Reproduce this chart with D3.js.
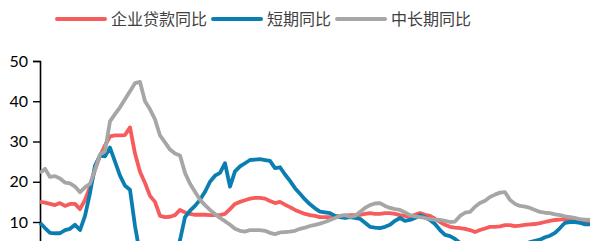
<!DOCTYPE html>
<html>
<head>
<meta charset="utf-8">
<script src="https://cdn.jsdelivr.net/npm/d3@7"></script>
<style>
  html, body { margin: 0; padding: 0; background: #fff; overflow: hidden; }
  #chart { width: 592px; height: 241px; overflow: hidden; }
</style>
</head>
<body>
<div id="chart"></div>
<script>
// series names (legend)
const seriesNames = ['企业贷款同比', '短期同比', '中长期同比'];
const seriesColors = ['#F75C5D', '#0A7DB1', '#A6A6A6'];

// y axis ticks (the ones that fall inside the picture)
const yTicks = [10, 20, 30, 40, 50];

// 企业贷款同比
const loanYoY = [
  15.0, 14.8, 14.5, 14.2, 14.7, 14.0, 14.5, 14.5, 13.2, 15.5,
  18.7, 23.0, 26.5, 29.0, 31.3, 31.5, 31.5, 31.6, 33.5, 27.0,
  22.5, 19.7, 16.5, 15.0, 11.5, 11.2, 11.3, 11.7, 13.0, 12.4,
  12.0, 11.8, 11.8, 11.8, 11.7, 11.7, 11.7, 12.0, 13.2, 14.5,
  15.0, 15.4, 15.8, 16.0, 16.0, 15.8, 15.2, 14.7, 15.0, 14.3,
  13.7, 13.0, 12.5, 12.0, 11.7, 11.5, 11.2, 11.2, 11.2, 11.3,
  11.5, 11.6, 11.7, 11.7, 11.8, 12.0, 12.2, 12.0, 12.0, 12.2,
  12.2, 12.0, 11.7, 11.5, 11.2, 11.8, 12.2, 11.8, 11.5, 10.8,
  10.0, 9.3, 8.8, 8.6, 8.5, 8.3, 8.0, 7.5, 8.0, 8.4,
  8.8, 8.8, 8.9, 9.2, 9.2, 9.0, 9.1, 9.3, 9.4, 9.5,
  9.7, 10.0, 10.3, 10.5, 10.6, 10.7, 10.6, 10.5, 10.4, 10.2,
  10.2
];

// 短期同比
const shortYoY = [
  9.8, 8.5, 7.3, 7.2, 7.2, 8.0, 8.3, 9.3, 8.0, 11.5,
  17.2, 24.0, 26.5, 26.3, 28.5, 25.0, 21.5, 19.0, 18.0, 9.0,
  2.0, -2.0, -4.0, -5.0, -5.0, -4.0, -2.0, 1.0, 5.5, 11.2,
  12.8, 14.0, 15.5, 17.5, 20.0, 21.5, 22.2, 24.6, 18.8, 22.6,
  23.8, 24.6, 25.4, 25.5, 25.6, 25.4, 25.2, 23.4, 23.6, 21.8,
  20.2, 18.4, 17.0, 15.6, 14.4, 13.4, 12.6, 12.4, 12.2, 11.5,
  11.2, 11.0, 11.2, 11.0, 10.8, 9.8, 8.8, 8.6, 8.5, 8.8,
  9.3, 10.3, 11.0, 10.3, 10.5, 11.0, 11.7, 11.2, 10.5, 9.5,
  8.0, 6.8, 6.5, 5.8, 4.8, 3.5, 2.5, 2.0, 1.5, 1.5,
  1.5, 2.0, 2.0, 2.5, 3.0, 3.5, 4.0, 4.5, 5.0, 5.3,
  5.6, 6.2, 6.6, 7.3, 8.5, 9.8, 10.0, 10.0, 9.8, 9.4,
  9.4
];

// 中长期同比
const longYoY = [
  22.2, 23.2, 21.2, 21.4, 20.8, 19.8, 19.6, 18.8, 17.4, 18.6,
  19.5, 23.0, 26.8, 27.6, 35.0, 36.8, 38.5, 40.5, 42.5, 44.5,
  44.8, 40.0, 38.0, 35.5, 31.5, 29.8, 28.0, 27.0, 26.5, 22.2,
  19.5, 17.5, 15.5, 14.2, 13.0, 12.0, 11.0, 10.2, 9.3, 8.3,
  7.8, 7.6, 8.0, 8.0, 8.0, 7.8, 7.3, 7.0, 7.4, 7.5,
  7.6, 7.8, 8.3, 8.6, 9.0, 9.3, 9.6, 10.0, 10.5, 11.0,
  11.5, 11.7, 11.3, 11.5, 12.5, 13.5, 14.2, 14.6, 14.7, 14.0,
  13.5, 13.2, 13.0, 12.4, 11.7, 11.4, 11.2, 11.0, 10.7, 10.6,
  10.5, 10.3, 10.0, 10.1, 11.5, 12.3, 12.5, 13.8, 14.7, 15.3,
  16.2, 16.8, 17.3, 17.4, 15.5, 14.5, 14.0, 13.8, 13.5, 13.0,
  12.5, 12.3, 12.2, 11.9, 11.7, 11.4, 11.2, 11.0, 10.7, 10.6,
  10.5
];

const allSeries = [loanYoY, shortYoY, longYoY];

const W = 592, H = 241;
const svg = d3.select('#chart')
  .append('svg')
  .attr('width', W)
  .attr('height', H);

// the plot runs on below the visible window
const x = d3.scaleLinear()
  .domain([0, loanYoY.length - 1])
  .range([40, 590]);

const y = d3.scaleLinear()
  .domain([-10, 50])
  .range([302.5, 61]);

// y axis
const yAxis = svg.append('g')
  .attr('transform', 'translate(40,0)')
  .call(d3.axisLeft(y).tickValues(yTicks).tickSize(7).tickPadding(5));
yAxis.select('.domain').attr('stroke', '#000').attr('stroke-width', 1.6);
yAxis.selectAll('.tick line').attr('stroke', '#000').attr('stroke-width', 1.4);
yAxis.selectAll('.tick text')
  .attr('fill', '#000')
  .style('font-family', 'Lato, "Open Sans", sans-serif')
  .style('font-size', '16px');

// lines
const line = d3.line()
  .x((d, i) => x(i))
  .y(d => y(d));

allSeries.forEach((s, k) => {
  svg.append('path')
    .datum(s)
    .attr('fill', 'none')
    .attr('stroke', seriesColors[k])
    .attr('stroke-width', 3.8)
    .attr('stroke-linejoin', 'round')
    .attr('d', line);
});

// legend
const legend = svg.append('g');
let lx = 57;
seriesNames.forEach((name, k) => {
  legend.append('line')
    .attr('x1', lx).attr('x2', lx + 48)
    .attr('y1', 19).attr('y2', 19)
    .attr('stroke', seriesColors[k])
    .attr('stroke-width', 4)
    .attr('stroke-linecap', 'round');
  const t = legend.append('text')
    .attr('x', lx + 54)
    .attr('y', 25)
    .attr('fill', '#404040')
    .style('font-family', '"Noto Sans CJK SC", sans-serif')
    .style('font-size', '16px')
    .text(name);
  lx += 54 + t.node().getComputedTextLength() + 6;
});
</script>
</body>
</html>
